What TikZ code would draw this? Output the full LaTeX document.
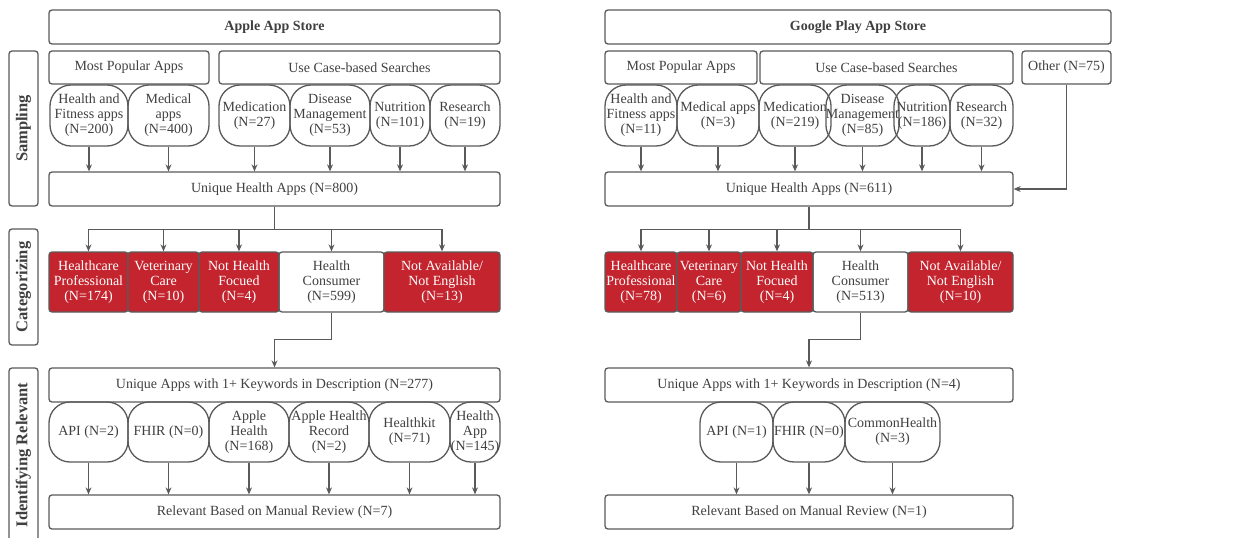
\documentclass[tikz,border=0pt]{standalone}
\usepackage{fontspec}
\setmainfont{Liberation Serif}
\usetikzlibrary{arrows.meta}
\definecolor{lc}{HTML}{5A5A5A}
\definecolor{tc}{HTML}{404040}
\definecolor{rd}{HTML}{C3242E}
\tikzset{
 base/.style={draw=lc, line width=1.3pt, text=tc, align=center, inner sep=0pt, font=\fontsize{14}{15}\selectfont},
 box/.style={base, rounded corners=3pt},
 oval/.style={base, rounded corners=21pt},
 redbox/.style={box, fill=rd, text=white},
 side/.style={box, font=\fontsize{16.5}{18}\selectfont\bfseries},
 arr/.style={draw=lc, line width=1.1pt, -{Stealth[length=7pt,width=6pt]}},
 ln/.style={draw=lc, line width=1.1pt},
}
\newcommand\bx[7]{%
 \pgfmathsetmacro\bxw{#5-#3}\pgfmathsetmacro\bxh{#6-#4}%
 \pgfmathsetmacro\bxx{(#3+#5)/2}\pgfmathsetmacro\bxy{(#4+#6)/2}%
 \node[#1, minimum width=\bxw pt, minimum height=\bxh pt] (#2) at (\bxx,\bxy) {#7};}
\begin{document}
\begin{tikzpicture}[x=1pt,y=-1pt]
\clip (0,0) rectangle (1254,538);
\fill[white] (0,0) rectangle (1254,538);
% side labels
\node[side, rotate=90, minimum width=155pt, minimum height=29pt] (sS) at (23.5,128.5) {Sampling};
\node[side, rotate=90, minimum width=116pt, minimum height=29pt] (sC) at (23.5,287) {Categorizing};
\node[side, rotate=90, minimum width=174pt, minimum height=29pt] (sI) at (23.5,455) {Identifying Relevant};
% ---------- Apple ----------
\bx{box}{appA}{49}{10}{500}{44}{\bfseries Apple App Store}
\bx{box}{mpA}{49}{51}{209}{84}{Most Popular Apps}
\bx{box}{ucA}{219}{51}{500}{84}{Use Case-based Searches}
\bx{oval}{hfA}{50}{85}{128}{146}{Health and\\Fitness apps\\(N=200)}
\bx{oval}{maA}{128}{85}{209}{146}{Medical\\apps\\(N=400)}
\bx{oval}{meA}{219}{85}{290}{146}{Medication\\(N=27)}
\bx{oval}{dmA}{290}{85}{370}{146}{Disease\\Management\\(N=53)}
\bx{oval}{nuA}{370}{85}{430}{146}{Nutrition\\(N=101)}
\bx{oval}{reA}{430}{85}{500}{146}{Research\\(N=19)}
\bx{box}{uhA}{49}{172}{500}{206}{Unique Health Apps (N=800)}
\bx{redbox}{hpA}{49}{252}{128}{312}{Healthcare\\Professional\\(N=174)}
\bx{redbox}{vcA}{128}{252}{199}{312}{Veterinary\\Care\\(N=10)}
\bx{redbox}{nhA}{199}{252}{279}{312}{Not Health\\Focued\\(N=4)}
\bx{box}{hcA}{279}{252}{384}{312}{Health\\Consumer\\(N=599)}
\bx{redbox}{naA}{384}{252}{500}{312}{Not Available/\\Not English\\(N=13)}
\bx{box}{kwA}{49}{368}{500}{402}{Unique Apps with 1+ Keywords in Description (N=277)}
\bx{oval}{k1A}{49}{402}{128}{462}{API (N=2)}
\bx{oval}{k2A}{128}{402}{209}{462}{FHIR (N=0)}
\bx{oval}{k3A}{209}{402}{289}{462}{Apple\\Health\\(N=168)}
\bx{oval}{k4A}{289}{402}{369}{462}{Apple Health\\Record\\(N=2)}
\bx{oval}{k5A}{369}{402}{450}{462}{Healthkit\\(N=71)}
\bx{oval}{k6A}{450}{402}{500}{462}{Health\\App\\(N=145)}
\bx{box}{rvA}{49}{495}{500}{529}{Relevant Based on Manual Review (N=7)}
% ---------- Google ----------
\bx{box}{appB}{605}{10}{1111}{44}{\bfseries Google Play App Store}
\bx{box}{mpB}{605}{51}{757}{84}{Most Popular Apps}
\bx{box}{ucB}{760}{51}{1013}{84}{Use Case-based Searches}
\bx{box}{otB}{1022}{51}{1111}{84}{Other (N=75)}
\bx{oval}{hfB}{605}{85}{677}{146}{Health and\\Fitness apps\\(N=11)}
\bx{oval}{maB}{677}{85}{759}{146}{Medical apps\\(N=3)}
\bx{oval}{meB}{759}{85}{831}{146}{Medication\\(N=219)}
\bx{oval}{dmB}{831}{85}{894}{146}{Disease\\Management\\(N=85)}
\bx{oval}{nuB}{894}{85}{950}{146}{Nutrition\\(N=186)}
\bx{oval}{reB}{950}{85}{1013}{146}{Research\\(N=32)}
\bx{box}{uhB}{605}{172}{1013}{206}{Unique Health Apps (N=611)}
\bx{redbox}{hpB}{605}{252}{677}{312}{Healthcare\\Professional\\(N=78)}
\bx{redbox}{vcB}{677}{252}{741}{312}{Veterinary\\Care\\(N=6)}
\bx{redbox}{nhB}{741}{252}{813}{312}{Not Health\\Focued\\(N=4)}
\bx{box}{hcB}{813}{252}{908}{312}{Health\\Consumer\\(N=513)}
\bx{redbox}{naB}{908}{252}{1013}{312}{Not Available/\\Not English\\(N=10)}
\bx{box}{kwB}{605}{368}{1013}{402}{Unique Apps with 1+ Keywords in Description (N=4)}
\bx{oval}{k1B}{700}{402}{773}{462}{API (N=1)}
\bx{oval}{k2B}{773}{402}{845}{462}{FHIR (N=0)}
\bx{oval}{k3B}{845}{402}{940}{462}{CommonHealth\\(N=3)}
\bx{box}{rvB}{605}{495}{1013}{529}{Relevant Based on Manual Review (N=1)}
% ---------- connectors ----------
\foreach \n in {hfA,maA,meA,dmA,nuA,reA} \draw[arr] (\n.south) -- (\n.south |- uhA.north);
\foreach \n in {hfB,maB,meB,dmB,nuB,reB} \draw[arr] (\n.south) -- (\n.south |- uhB.north);
\draw[arr] (otB.south) |- (uhB.east);
\path (uhA.south) ++(0,23) coordinate (jA);
\path (uhB.south) ++(0,23) coordinate (jB);
\draw[ln] (uhA.south) -- (jA);
\draw[ln] (uhB.south) -- (jB);
\foreach \n in {hpA,vcA,nhA,hcA,naA} \draw[arr] (jA) -| (\n.north);
\foreach \n in {hpB,vcB,nhB,hcB,naB} \draw[arr] (jB) -| (\n.north);
\path (hcA.south) ++(0,27) coordinate (tA);
\path (hcB.south) ++(0,27) coordinate (tB);
\draw[arr] (hcA.south) -- (tA) -| (kwA.north);
\draw[arr] (hcB.south) -- (tB) -| (kwB.north);
\foreach \n in {k1A,k2A,k3A,k4A,k5A,k6A} \draw[arr] (\n.south) -- (\n.south |- rvA.north);
\foreach \n in {k1B,k2B,k3B} \draw[arr] (\n.south) -- (\n.south |- rvB.north);
\end{tikzpicture}
\end{document}
